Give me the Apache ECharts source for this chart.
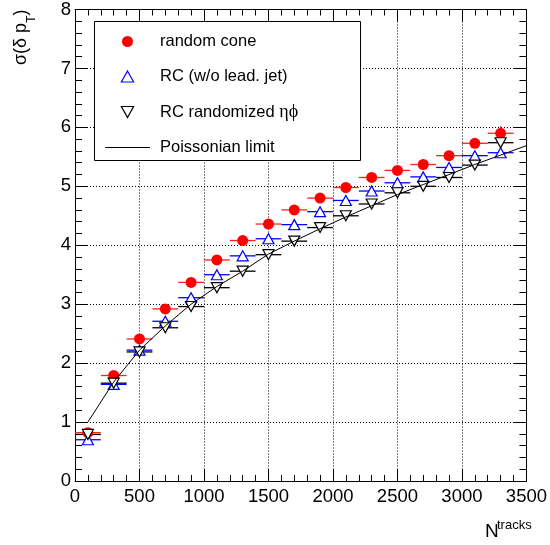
<!DOCTYPE html>
<html>
<head>
<meta charset="utf-8">
<script src="https://cdn.jsdelivr.net/npm/echarts@6/dist/echarts.min.js"></script>
<style>
html,body{margin:0;padding:0;background:#fff;}
#chart{width:550px;height:545px;}
</style>
</head>
<body>
<div id="chart"></div>
<script>
// ---- data ----
const nTracks = [100, 300, 500, 700, 900, 1100, 1300, 1500, 1700, 1900, 2100, 2300, 2500, 2700, 2900, 3100, 3300];
const binHalfWidth = 100;
const randomCone = [0.82, 1.79, 2.41, 2.92, 3.37, 3.75, 4.08, 4.36, 4.60, 4.80, 4.98, 5.15, 5.27, 5.37, 5.52, 5.73, 5.90];
const randomConeErr = [0.03, 0.03, 0.03, 0.03, 0.03, 0.03, 0.03, 0.03, 0.03, 0.03, 0.03, 0.03, 0.03, 0.03, 0.04, 0.05, 0.12];
const rcNoLead = [0.70, 1.64, 2.22, 2.71, 3.11, 3.50, 3.82, 4.11, 4.35, 4.57, 4.76, 4.92, 5.06, 5.16, 5.32, 5.52, 5.57];
const rcNoLeadErr = [0.03, 0.03, 0.03, 0.03, 0.03, 0.03, 0.03, 0.03, 0.03, 0.03, 0.03, 0.03, 0.03, 0.03, 0.04, 0.05, 0.06];
const rcRandomized = [0.79, 1.66, 2.19, 2.60, 2.96, 3.28, 3.56, 3.84, 4.07, 4.30, 4.50, 4.70, 4.89, 5.00, 5.15, 5.36, 5.74];
const rcRandomizedErr = [0.03, 0.03, 0.03, 0.03, 0.03, 0.03, 0.03, 0.03, 0.03, 0.03, 0.03, 0.03, 0.03, 0.03, 0.04, 0.05, 0.08];
const poissonX = [100, 300, 500, 700, 900, 1100, 1300, 1500, 1700, 1900, 2100, 2300, 2500, 2700, 2900, 3100, 3300, 3500];
const poissonY = [1.00, 1.68, 2.22, 2.63, 3.00, 3.30, 3.56, 3.85, 4.07, 4.28, 4.48, 4.67, 4.86, 5.03, 5.20, 5.37, 5.53, 5.69];
const xTicks = [0, 500, 1000, 1500, 2000, 2500, 3000, 3500];
const yTicks = [0, 1, 2, 3, 4, 5, 6, 7, 8];
const seriesNames = ['random cone', 'RC (w/o lead. jet)', 'RC randomized ηϕ', 'Poissonian limit'];

const FONT = 'Liberation Sans';
const UP_TRI = 'path://M5,0 L10,9 L0,9 Z';
const DOWN_TRI = 'path://M0,0 L10,0 L5,9 Z';
const LINE_ICON = 'path://M0,0 L45,0 L45,1 L0,1 Z';
const chart = echarts.init(document.getElementById('chart'), null, {renderer: 'canvas'});

function zip2(a, b) { return a.map((v, i) => [v, b[i]]); }
function zip3(a, b, c) { return a.map((v, i) => [v, b[i], c[i]]); }

function errBars(name, vals, errs, color) {
  return {
    type: 'custom',
    name: name + ' err',
    data: zip3(nTracks, vals, errs),
    encode: {x: 0, y: 1},
    silent: true,
    renderItem: function (params, api) {
      const x = api.value(0), y = api.value(1), e = api.value(2);
      const l = api.coord([x - binHalfWidth, y]);
      const r = api.coord([x + binHalfWidth, y]);
      const t = api.coord([x, y + e]);
      const b = api.coord([x, y - e]);
      return {
        type: 'group',
        children: [
          {type: 'line', shape: {x1: l[0], y1: l[1], x2: r[0], y2: r[1]}, style: {stroke: color, lineWidth: 1.3}},
          {type: 'line', shape: {x1: t[0], y1: t[1], x2: b[0], y2: b[1]}, style: {stroke: color, lineWidth: 1.3}}
        ]
      };
    }
  };
}

const xAxisBase = {
  type: 'value', min: 0, max: 3500, interval: 500,
  axisLine: {show: true, onZero: false, lineStyle: {color: '#000', width: 1}},
  axisTick: {show: true, inside: true, length: 12, lineStyle: {color: '#000'}},
  minorTick: {show: true, splitNumber: 5, length: 6, lineStyle: {color: '#000'}}
};
const yAxisBase = {
  type: 'value', min: 0, max: 8, interval: 1,
  axisLine: {show: true, onZero: false, lineStyle: {color: '#000', width: 1}},
  axisTick: {show: true, inside: true, length: 13, lineStyle: {color: '#000'}},
  minorTick: {show: true, splitNumber: 5, length: 7, lineStyle: {color: '#000'}}
};

const option = {
  animation: false,
  backgroundColor: '#fff',
  grid: {left: 75, top: 9, right: 19, bottom: 64, containLabel: false},
  xAxis: [
    Object.assign({}, xAxisBase, {
      position: 'bottom',
      axisLabel: {show: true, color: '#000', fontFamily: FONT, fontSize: 18.5, margin: 6,
        formatter: v => xTicks.indexOf(v) >= 0 ? String(v) : ''},
      splitLine: {show: true, lineStyle: {color: '#000', type: [1, 2], width: 1}}
    }),
    Object.assign({}, xAxisBase, {
      position: 'top',
      axisLabel: {show: false},
      splitLine: {show: false}
    })
  ],
  yAxis: [
    Object.assign({}, yAxisBase, {
      position: 'left',
      axisLabel: {show: true, color: '#000', fontFamily: FONT, fontSize: 18.5, margin: 4,
        formatter: v => yTicks.indexOf(v) >= 0 ? String(v) : ''},
      splitLine: {show: true, lineStyle: {color: '#000', type: [1, 2], width: 1}}
    }),
    Object.assign({}, yAxisBase, {
      position: 'right',
      axisLabel: {show: false},
      splitLine: {show: false}
    })
  ],
  legend: {
    show: true,
    orient: 'vertical',
    left: 105,
    top: 33,
    padding: 0,
    itemGap: 18,
    itemWidth: 45,
    itemHeight: 11,
    symbolKeepAspect: true,
    selectedMode: false,
    z: 10,
    data: [
      {name: seriesNames[0], icon: 'circle', itemStyle: {color: '#ff0000', borderWidth: 0}},
      {name: seriesNames[1], icon: UP_TRI, itemStyle: {color: '#fff', borderColor: '#0000ff', borderWidth: 1.2}},
      {name: seriesNames[2], icon: DOWN_TRI, itemStyle: {color: '#fff', borderColor: '#000', borderWidth: 1.2}},
      {name: seriesNames[3], icon: LINE_ICON, itemStyle: {color: '#000', borderWidth: 0}}
    ],
    formatter: function (name) {
      if (name === seriesNames[2]) return '{t|RC randomized }{g|ηϕ}';
      return '{t|' + name + '}';
    },
    textStyle: {
      padding: [0, 0, 0, 5],
      rich: {
        t: {fontFamily: FONT, fontSize: 16.5, color: '#000', lineHeight: 20},
        g: {fontFamily: 'Liberation Serif', fontSize: 18, color: '#000', lineHeight: 20}
      }
    }
  },
  graphic: [
    {type: 'rect', z: 8, shape: {x: 94.5, y: 21.5, width: 266, height: 139},
      style: {fill: '#fff', stroke: '#000', lineWidth: 1}},
    {type: 'text', x: 21, y: 65, rotation: Math.PI / 2, z: 10,
      style: {
        text: '{m|σ(δ p}{s|T}{m|)}',
        textAlign: 'left', textVerticalAlign: 'middle',
        rich: {
          m: {fontFamily: FONT, fontSize: 18, lineHeight: 34, fill: '#000'},
          s: {fontFamily: FONT, fontSize: 12, lineHeight: 12, verticalAlign: 'bottom', fill: '#000'}
        }
      }},
    {type: 'text', x: 485, y: 531.5, z: 10,
      style: {text: 'N', fontFamily: FONT, fontSize: 19, fill: '#000', textAlign: 'left', textVerticalAlign: 'middle'}},
    {type: 'text', x: 497, y: 525.5, z: 10,
      style: {text: 'tracks', fontFamily: FONT, fontSize: 13, fill: '#000', textAlign: 'left', textVerticalAlign: 'middle'}}
  ],
  series: [
    errBars(seriesNames[0], randomCone, randomConeErr, '#ff2020'),
    {
      type: 'scatter', name: seriesNames[0], data: zip2(nTracks, randomCone),
      symbol: 'circle', symbolSize: 11,
      itemStyle: {color: '#ff0000', opacity: 1}
    },
    errBars(seriesNames[1], rcNoLead, rcNoLeadErr, '#0000ff'),
    {
      type: 'scatter', name: seriesNames[1], data: zip2(nTracks, rcNoLead),
      symbol: 'triangle', symbolSize: [11, 10],
      itemStyle: {color: '#fff', borderColor: '#0000ff', borderWidth: 1.2, opacity: 1}
    },
    errBars(seriesNames[2], rcRandomized, rcRandomizedErr, '#000'),
    {
      type: 'scatter', name: seriesNames[2], data: zip2(nTracks, rcRandomized),
      symbol: 'triangle', symbolSize: [11, 10], symbolRotate: 180,
      itemStyle: {color: '#fff', borderColor: '#000', borderWidth: 1.2, opacity: 1}
    },
    {
      type: 'line', name: seriesNames[3], data: zip2(poissonX, poissonY),
      symbol: 'none', showSymbol: false, smooth: false,
      lineStyle: {color: '#000', width: 1}, itemStyle: {color: '#000'}
    }
  ]
};
chart.setOption(option);
</script>
</body>
</html>
